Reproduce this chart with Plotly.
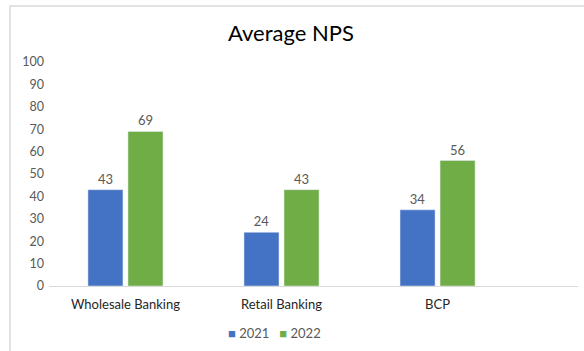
import plotly.graph_objects as go

categories = ["Wholesale Banking", "Retail Banking", "BCP"]
nps_2021 = [43, 24, 34]
nps_2022 = [69, 43, 56]
y_ticks = [0, 10, 20, 30, 40, 50, 60, 70, 80, 90, 100]

FONT = "Lato, 'Open Sans', sans-serif"
GRAY = "#595959"
BLUE = "#4472C4"
GREEN = "#70AD47"

fig = go.Figure()
fig.add_trace(go.Bar(
    name="2021", x=categories, y=nps_2021, marker_color=BLUE,
    text=nps_2021, textposition="outside", cliponaxis=False,
    textfont=dict(family=FONT, size=13, color=GRAY),
))
fig.add_trace(go.Bar(
    name="2022", x=categories, y=nps_2022, marker_color=GREEN,
    text=nps_2022, textposition="outside", cliponaxis=False,
    textfont=dict(family=FONT, size=13, color=GRAY),
))

W, H = 584, 351
L, R, T, B = 49, 6, 62, 65
pw, ph = W - L - R, H - T - B

# compact legend: small coloured squares followed by the series names
legend_text = (f"<span style='color:{BLUE}'>■</span> 2021"
               f"&nbsp;&nbsp;&nbsp;<span style='color:{GREEN}'>■</span> 2022")

fig.update_layout(
    width=W, height=H,
    margin=dict(l=L, r=R, t=T, b=B),
    paper_bgcolor="white", plot_bgcolor="white",
    barmode="group", bargap=0.487, bargroupgap=0.125,
    title=dict(text="Average NPS", x=291 / W, xref="container", xanchor="center",
               y=1 - 33 / H, yref="container", yanchor="middle",
               font=dict(family=FONT, size=22, color="#000000")),
    showlegend=False,
    font=dict(family=FONT, color=GRAY),
    xaxis=dict(range=[-0.49, 2.9], showgrid=False, showline=True, linecolor="#d9d9d9",
               linewidth=1, ticks="", ticklabelstandoff=6,
               tickfont=dict(family=FONT, size=13, color="#262626")),
    yaxis=dict(range=[0, 100], tickvals=y_ticks, showgrid=False, zeroline=False,
               showline=False, ticks="", ticklabelstandoff=4,
               tickfont=dict(family=FONT, size=12.5, color=GRAY)),
    annotations=[dict(text=legend_text, xref="paper", yref="paper",
                      x=(274 - L) / pw, y=-(333 - (H - B)) / ph,
                      xanchor="center", yanchor="middle", showarrow=False,
                      font=dict(family=FONT, size=13, color=GRAY))],
    shapes=[dict(type="rect", xref="paper", yref="paper",
                 x0=(10 - L) / pw, x1=1.2, y0=-0.6, y1=(H - B - 6) / ph,
                 line=dict(color="#d9d9d9", width=1.5), layer="below")],
)

fig.write_html("out.html")
